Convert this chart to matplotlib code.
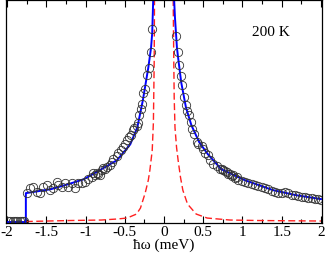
import matplotlib
matplotlib.use("Agg")
import matplotlib.pyplot as plt
from matplotlib.ticker import MultipleLocator

plt.rcParams['font.family'] = ['Liberation Serif', 'DejaVu Serif']
plt.rcParams['axes.unicode_minus'] = False

# measured points (open circles)
pts_x = [-1.99, -1.96, -1.93, -1.90, -1.87, -1.84, -1.81, -1.78,
         -1.74, -1.707, -1.665, -1.622, -1.58, -1.538, -1.494, -1.452, -1.41,
         -1.367, -1.346, -1.303, -1.261, -1.219, -1.176, -1.134, -1.092, -1.048,
         -1.006, -0.964, -0.921, -0.9, -0.879, -0.857, -0.837, -0.815, -0.794,
         -0.773, -0.752, -0.73, -0.688, -0.666, -0.646, -0.603, -0.582, -0.552,
         -0.518, -0.5, -0.468, -0.442, -0.417, -0.4, -0.382, -0.348, -0.327,
         -0.315, -0.297, -0.276, -0.264, -0.242, -0.22, -0.195, -0.169, -0.157,
         0.153, 0.174, 0.191, 0.217, 0.233, 0.255, 0.276, 0.297, 0.318, 0.34,
         0.361, 0.382, 0.416, 0.437, 0.48, 0.501, 0.522, 0.564, 0.586, 0.628,
         0.671, 0.713, 0.735, 0.755, 0.777, 0.798, 0.819, 0.841, 0.862, 0.883,
         0.904, 0.926, 0.946, 0.99, 1.032, 1.074, 1.117, 1.159, 1.201, 1.245,
         1.287, 1.329, 1.372, 1.414, 1.456, 1.499, 1.541, 1.583, 1.627, 1.669,
         1.711, 1.754, 1.796, 1.838, 1.881, 1.924, 1.966, 2.0]
pts_y = [1, 1, 1, 1, 1, 1, 1, 1,
         29, 33.7, 35.3, 30.3, 28.7, 35.3, 37, 32, 33.7,
         40.3, 37, 35.3, 38.7, 35.3, 38.7, 33.7, 38.7, 38.7,
         40.3, 43.7, 45.3, 49, 47, 49, 48.7, 47, 52,
         54, 53.7, 55, 57, 60, 63, 66, 69, 72,
         75, 78, 82, 85, 87, 92, 94, 96, 99,
         107, 114, 119, 130, 134, 148, 155, 171, 194,
         187, 170.3, 158, 147, 138, 126, 118, 112, 107, 100.3,
         93.7, 88.7, 80.3, 78, 76, 73.7, 69.3, 67, 62, 58.7,
         56, 53.7, 53.7, 52, 51.3, 50.3, 48.7, 48.7, 46, 47,
         44.7, 45.3, 42.7, 41.3, 39.7, 38.7, 37.7, 37, 36, 34.7,
         33.7, 32.7, 31.3, 30.3, 29.3, 28.7, 30.3, 28.7, 27, 27,
         26, 25.3, 24.7, 24.3, 23.7, 23.3, 23, 22]

# fit (blue solid)
fit_x = [-2.0, -1.76, -1.76, -1.6, -1.44, -1.22, -1.02, -0.82, -0.6, -0.43,
         -0.34, -0.27, -0.2, -0.165, -0.15, -0.135, -0.12,
         0.11, 0.125, 0.14, 0.165, 0.18, 0.22, 0.28, 0.35, 0.45, 0.56, 0.73,
         1.03, 1.39, 1.68, 2.0]
fit_y = [0, 0, 29, 31, 33, 38, 43, 52, 62, 78,
         95, 122, 155, 175, 190, 230, 400,
         400, 230, 205, 175, 165, 140, 115, 97, 80, 68, 53,
         42, 32, 27, 23]

# elastic line (red dashed)
el_x = [-1.76, -1.2, -0.8, -0.6, -0.47, -0.35, -0.3, -0.24, -0.2, -0.18,
        -0.15, -0.135, -0.125, -0.12, 0.0, 0.115, 0.12, 0.125, 0.13, 0.14,
        0.16, 0.18, 0.21, 0.24, 0.3, 0.41, 0.55, 0.84, 1.2, 2.0]
el_y = [0.5, 1.5, 2, 3, 4, 8, 14, 29, 42, 52,
        72, 100, 160, 240, 3000, 240, 200, 160, 125, 95,
        75, 62, 45, 32, 18, 8, 4, 2, 1.5, 1]

fig = plt.figure(figsize=(3.26, 2.54), dpi=100)
ax = fig.add_axes([0.0184, 0.122, 0.9693, 0.878])

ax.plot(el_x, el_y, color='#ff2020', lw=1.0, dashes=(5, 2.5))
ax.plot(fit_x, fit_y, color='#0000ff', lw=1.4)
ax.plot(pts_x, pts_y, 'o', mfc='none', mec='#333333', ms=6, mew=0.6)

ax.set_xlim(-2.013, 2.013)
ax.set_ylim(-1, 223)
ax.set_yticks([])
ax.xaxis.set_minor_locator(MultipleLocator(0.25))
ax.set_xticks([-2, -1.5, -1, -0.5, 0, 0.5, 1, 1.5, 2])
ax.set_xticklabels(['-2', '-1.5', '-1', '-0.5', '0', '0.5', '1', '1.5', '2'])
ax.tick_params(axis='x', which='both', direction='in', top=True, labelsize=11, pad=2)
ax.tick_params(axis='x', which='major', length=5, width=0.8)
ax.tick_params(axis='x', which='minor', length=3, width=0.8)
for s in ax.spines.values():
    s.set_linewidth(0.9)

ax.set_xlabel('ħω (meV)', fontsize=11, labelpad=0)
ax.text(0.84, 0.855, '200 K', transform=ax.transAxes, fontsize=11,
        ha='center', va='center')

fig.savefig('out.png', dpi=100)
